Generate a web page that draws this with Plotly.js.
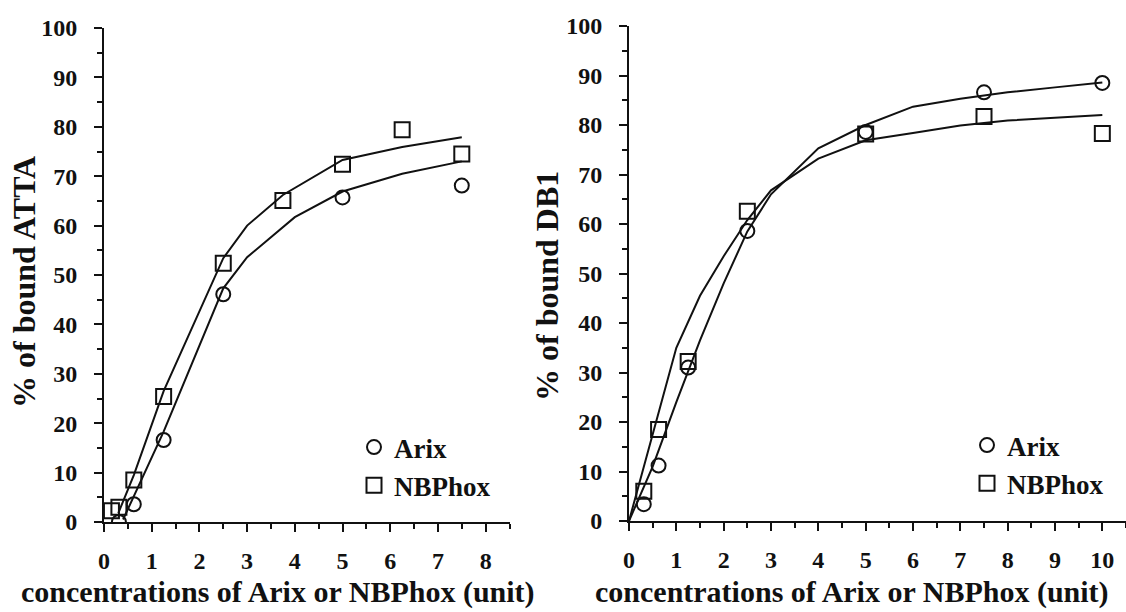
<!DOCTYPE html>
<html>
<head>
<meta charset="utf-8">
<script src="https://cdn.plot.ly/plotly-3.0.1.min.js"></script>
<style>html,body{margin:0;padding:0;background:#fff;}#chart{width:1126px;height:612px;}</style>
</head>
<body>
<div id="chart"></div>
<script>
// ---- Left panel: % of bound ATTA ----
const leftX_nbphox = [0.156, 0.3125, 0.625, 1.25, 2.5, 3.75, 5, 6.25, 7.5];
const leftY_nbphox = [2.3, 3.0, 8.5, 25.4, 52.4, 65.1, 72.4, 79.4, 74.5];
const leftX_arix = [0.3125, 0.625, 1.25, 2.5, 5, 7.5];
const leftY_arix = [0.0, 3.6, 16.6, 46.1, 65.7, 68.1];
const leftFitX_nbphox = [0.3, 0.625, 1.25, 2.5, 3, 3.75, 5, 6.25, 7.5];
const leftFitY_nbphox = [1.8, 9.5, 26.5, 53.4, 60.0, 66.2, 73.3, 75.9, 77.9];
const leftFitX_arix = [0.4, 1.25, 2.5, 3, 4, 5, 6.25, 7.5];
const leftFitY_arix = [0.5, 18.3, 47.3, 53.6, 61.7, 66.9, 70.5, 73.0];

// ---- Right panel: % of bound DB1 ----
const rightX = [0.3125, 0.625, 1.25, 2.5, 5, 7.5, 10];
const rightY_arix = [3.4, 11.2, 31.0, 58.6, 78.6, 86.6, 88.5];
const rightY_nbphox = [6.0, 18.5, 32.2, 62.6, 78.2, 81.7, 78.3];
const rightFitX = [0, 0.5, 1, 1.5, 2, 2.5, 3, 4, 5, 6, 7, 8, 9, 10];
const rightFitY_nbphox = [0, 17.5, 35, 45.5, 53.5, 60.8, 66.8, 73.2, 76.9, 78.4, 79.9, 80.9, 81.5, 82.0];
const rightFitY_arix = [0, 11, 24, 36.5, 48, 58.5, 66, 75.3, 80.0, 83.7, 85.3, 86.6, 87.6, 88.6];

const leftTicksX = [0,1,2,3,4,5,6,7,8];
const rightTicksX = [0,1,2,3,4,5,6,7,8,9,10];
const ticksY = [0,10,20,30,40,50,60,70,80,90,100];
const xTitle = 'concentrations of Arix or NBPhox (unit)';
const leftYTitle = '% of bound ATTA';
const rightYTitle = '% of bound DB1';

const serif = "Liberation Serif, Times New Roman, serif";
const tickFont = {family: serif, size: 24, color: '#111', weight: 'bold'};
const titleFont = {family: serif, size: 30, color: '#111', weight: 'bold'};
const yTitleFont = {family: serif, size: 32, color: '#111', weight: 'bold'};
const legendFont = {family: serif, size: 27, color: '#111', weight: 'bold'};

const lineStyle = {color: '#111', width: 2};
const circ = {symbol: 'circle-open', size: 14, color: '#111', line: {width: 2, color: '#111'}};
const sq = {symbol: 'square-open', size: 15, color: '#111', line: {width: 2, color: '#111'}};

const traces = [
  {x: leftFitX_nbphox, y: leftFitY_nbphox, mode: 'lines', line: lineStyle, xaxis: 'x', yaxis: 'y', showlegend: false, hoverinfo: 'skip'},
  {x: leftFitX_arix, y: leftFitY_arix, mode: 'lines', line: lineStyle, xaxis: 'x', yaxis: 'y', showlegend: false, hoverinfo: 'skip'},
  {x: leftX_arix, y: leftY_arix, mode: 'markers', marker: circ, name: 'Arix', xaxis: 'x', yaxis: 'y', legend: 'legend'},
  {x: leftX_nbphox, y: leftY_nbphox, mode: 'markers', marker: sq, name: 'NBPhox', xaxis: 'x', yaxis: 'y', legend: 'legend'},
  {x: rightFitX, y: rightFitY_nbphox, mode: 'lines', line: lineStyle, xaxis: 'x2', yaxis: 'y2', showlegend: false, hoverinfo: 'skip'},
  {x: rightFitX, y: rightFitY_arix, mode: 'lines', line: lineStyle, xaxis: 'x2', yaxis: 'y2', showlegend: false, hoverinfo: 'skip'},
  {x: rightX, y: rightY_arix, mode: 'markers', marker: circ, name: 'Arix', xaxis: 'x2', yaxis: 'y2', legend: 'legend2'},
  {x: rightX, y: rightY_nbphox, mode: 'markers', marker: sq, name: 'NBPhox', xaxis: 'x2', yaxis: 'y2', legend: 'legend2'}
];

function halves(maxV) { const a = []; for (let v = 0.5; v < maxV; v += 1) a.push(v); return a; }

function xAxis(domain, range, ticks, anchor) {
  return {
    domain: domain, range: range, anchor: anchor,
    showline: true, linecolor: '#111', linewidth: 2,
    showgrid: false, zeroline: false,
    ticks: 'outside', ticklen: 8, tickwidth: 2, tickcolor: '#111',
    tickvals: ticks, ticktext: ticks.map(String),
    minor: {tickvals: halves(ticks[ticks.length - 1] + 0.6), ticks: 'outside', ticklen: 5, tickwidth: 2, tickcolor: '#111'},
    tickfont: tickFont, ticklabelstandoff: 8
  };
}
function yAxis(domain, anchor) {
  return {
    domain: domain, range: [0, 100], anchor: anchor,
    showline: true, linecolor: '#111', linewidth: 2,
    showgrid: false, zeroline: false,
    ticks: 'outside', ticklen: 8, tickwidth: 2, tickcolor: '#111',
    tickvals: ticksY, ticktext: ticksY.map(String),
    minor: {dtick: 5, ticks: 'outside', ticklen: 5, tickwidth: 2, tickcolor: '#111'},
    tickfont: tickFont, ticklabelstandoff: 12
  };
}

const layout = {
  width: 1126, height: 612,
  margin: {l: 0, r: 0, t: 0, b: 0},
  paper_bgcolor: '#fff', plot_bgcolor: 'rgba(0,0,0,0)',
  xaxis: xAxis([104/1126, 509.5/1126], [0, 8.5], leftTicksX, 'y'),
  yaxis: yAxis([1 - 522/612, 1 - 28/612], 'x'),
  xaxis2: xAxis([629/1126, 1], [0, 10.5], rightTicksX, 'y2'),
  yaxis2: yAxis([1 - 521/612, 1 - 26/612], 'x2'),
  legend: {x: 354/1126, y: 1 - 423/612, xanchor: 'left', yanchor: 'top', bgcolor: 'rgba(0,0,0,0)',
           font: legendFont, itemwidth: 30},
  legend2: {x: 967/1126, y: 1 - 421/612, xanchor: 'left', yanchor: 'top', bgcolor: 'rgba(0,0,0,0)',
           font: legendFont, itemwidth: 30},
  showlegend: true,
  annotations: [
    {text: xTitle, xref: 'paper', yref: 'paper', x: 278/1126, y: 1 - 592/612, xanchor: 'center', yanchor: 'middle', showarrow: false, font: titleFont},
    {text: xTitle, xref: 'paper', yref: 'paper', x: 852/1126, y: 1 - 592/612, xanchor: 'center', yanchor: 'middle', showarrow: false, font: titleFont},
    {text: leftYTitle, xref: 'paper', yref: 'paper', x: 24/1126, y: 1 - 282/612, xanchor: 'center', yanchor: 'middle', textangle: -90, showarrow: false, font: yTitleFont},
    {text: rightYTitle, xref: 'paper', yref: 'paper', x: 547/1126, y: 1 - 286/612, xanchor: 'center', yanchor: 'middle', textangle: -90, showarrow: false, font: yTitleFont}
  ]
};

Plotly.newPlot('chart', traces, layout, {staticPlot: true, displayModeBar: false});
</script>
</body>
</html>
